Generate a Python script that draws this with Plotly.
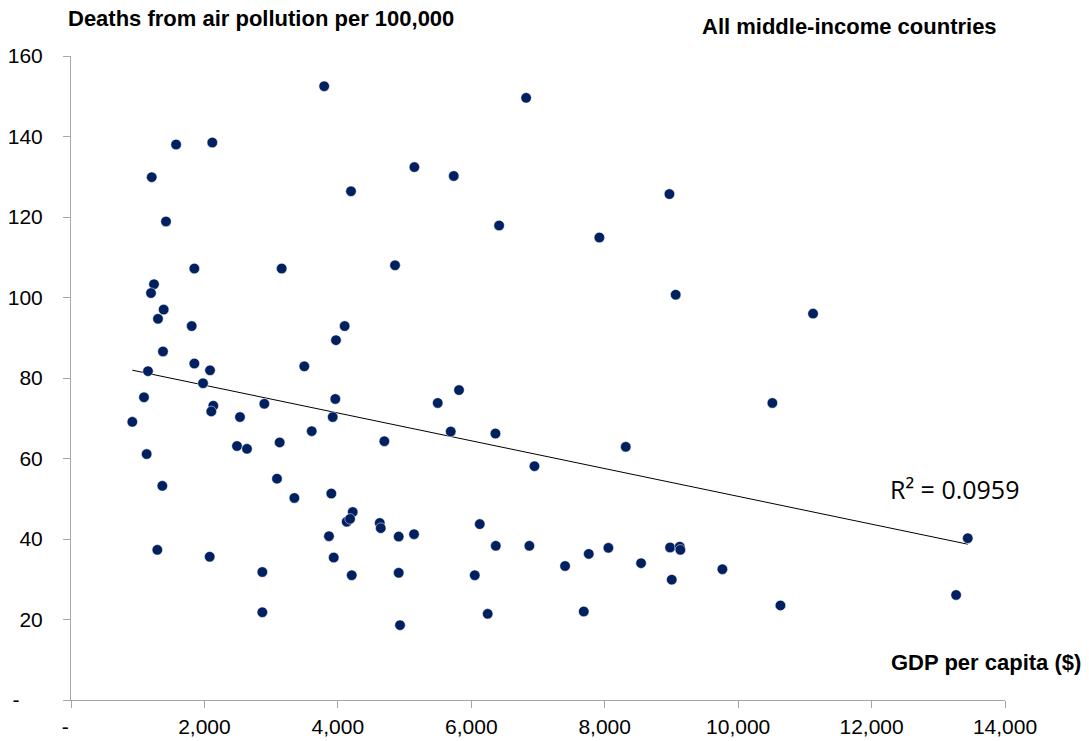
import numpy as np
import plotly.graph_objects as go

# GDP per capita ($) and deaths from air pollution per 100,000
gdp = [3795, 1575, 2118, 1210, 1424, 4197, 6822, 5147, 5737, 6417, 7920, 8970,
       1849, 3158, 1244, 1199, 1389, 1304, 1809, 4102, 3972, 1379, 1849, 2084,
       3497, 1154, 1979, 1094, 3962, 2898, 2133, 2103, 2533, 3923, 919, 3608,
       3128, 2488, 2638, 1134, 1369, 3088, 3348, 3902, 4223, 4133, 4183, 3867,
       1294, 2079, 3938, 2868, 4208, 2868, 4857, 9064, 5816, 5497, 4697, 5692,
       6362, 6947, 8315, 4628, 4643, 4912, 5142, 6127, 6367, 6871, 7406, 7761,
       8055, 8545, 8980, 9125, 9134, 9005, 4912, 6052, 6246, 7686, 4932, 11123,
       10513, 13442, 9764, 10634, 13267]
deaths = [152.5, 138.0, 138.5, 129.9, 118.9, 126.4, 149.6, 132.4, 130.2, 117.9, 114.9, 125.7,
          107.2, 107.2, 103.3, 101.1, 97.0, 94.7, 92.9, 92.9, 89.4, 86.6, 83.6, 81.9,
          82.9, 81.7, 78.7, 75.2, 74.8, 73.6, 73.1, 71.7, 70.3, 70.3, 69.1, 66.8,
          64.0, 63.1, 62.4, 61.1, 53.2, 55.0, 50.2, 51.3, 46.7, 44.3, 45.0, 40.7,
          37.3, 35.6, 35.4, 31.8, 31.0, 21.8, 108.0, 100.7, 77.0, 73.8, 64.3, 66.7,
          66.2, 58.1, 62.9, 44.0, 42.7, 40.6, 41.2, 43.7, 38.3, 38.3, 33.3, 36.3,
          37.8, 34.0, 37.9, 38.1, 37.3, 29.9, 31.6, 31.0, 21.4, 22.0, 18.6, 96.0,
          73.8, 40.2, 32.5, 23.5, 26.1]

x_ticks = [0, 2000, 4000, 6000, 8000, 10000, 12000, 14000]
x_ticktext = ["-\u00a0\u00a0", "2,000", "4,000", "6,000", "8,000", "10,000", "12,000", "14,000"]
y_ticks = [0, 20, 40, 60, 80, 100, 120, 140, 160]
y_ticktext = ["-\u00a0\u00a0\u00a0\u00a0", "20", "40", "60", "80", "100", "120", "140", "160"]

# linear trendline (least squares, as in the original chart)
xa = np.array(gdp, dtype=float)
ya = np.array(deaths, dtype=float)
slope, intercept = np.polyfit(xa, ya, 1)
tx = [xa.min(), xa.max()]
ty = [slope * v + intercept for v in tx]

fig = go.Figure()
fig.add_trace(go.Scatter(x=tx, y=ty, mode="lines",
                         line=dict(color="#000000", width=1), hoverinfo="skip"))
fig.add_trace(go.Scatter(x=gdp, y=deaths, mode="markers",
                         marker=dict(color="#002060", size=10.5,
                                     line=dict(color="#ffffff", width=0.5))))

axis_font = dict(family="Liberation Sans, Arial, sans-serif", size=21, color="#000000")
fig.update_xaxes(range=[0, 14000], tickvals=x_ticks, ticktext=x_ticktext,
                 showgrid=False, zeroline=False, showline=True, linecolor="#a6a6a6",
                 linewidth=1, ticks="outside", ticklen=7, tickcolor="#a6a6a6",
                 tickfont=axis_font, ticklabelstandoff=1, automargin=False)
fig.update_yaxes(range=[0, 160], tickvals=y_ticks, ticktext=y_ticktext,
                 showgrid=False, zeroline=False, showline=True, linecolor="#a6a6a6",
                 linewidth=1, ticks="outside", ticklen=7, tickcolor="#a6a6a6",
                 tickfont=axis_font, ticklabelstandoff=16, automargin=False)

title_font = dict(family="Liberation Sans, Arial, sans-serif", size=22, color="#000000")
fig.add_annotation(text="<b>Deaths from air pollution per 100,000</b>", xref="paper", yref="paper",
                   x=-0.0054, y=1.0575, xanchor="left", yanchor="middle", showarrow=False,
                   font=title_font)
fig.add_annotation(text="<b>All middle-income countries</b>", xref="paper", yref="paper",
                   x=0.6734, y=1.0458, xanchor="left", yanchor="middle", showarrow=False,
                   font=title_font)
fig.add_annotation(text="<b>GDP per capita ($)</b>", xref="paper", yref="paper",
                   x=1.0835, y=0.0575, xanchor="right", yanchor="middle", showarrow=False,
                   font=title_font)
fig.add_annotation(text="R² = 0.0959", xref="paper", yref="paper",
                   x=0.9454, y=0.3276, xanchor="center", yanchor="middle", showarrow=False,
                   font=dict(family="Open Sans, sans-serif", size=25, color="#000000"))

fig.update_layout(width=1089, height=741, margin=dict(l=71, r=84, t=56, b=41),
                  plot_bgcolor="#ffffff", paper_bgcolor="#ffffff", showlegend=False)

fig.write_html("out.html")
